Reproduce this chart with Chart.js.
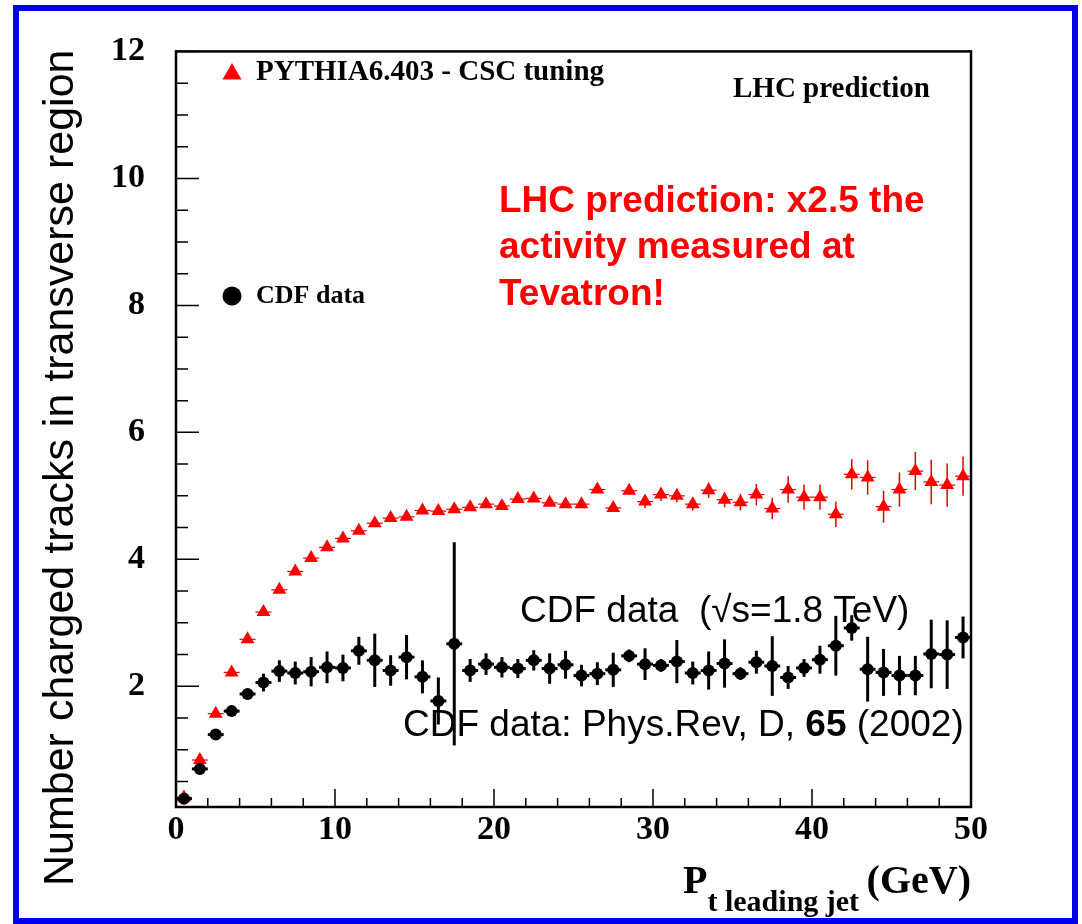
<!DOCTYPE html>
<html>
<head>
<meta charset="utf-8">
<title>Charged tracks in transverse region</title>
<script src="https://cdn.jsdelivr.net/npm/chart.js@4.4.1/dist/chart.umd.min.js"></script>
<style>
  html, body { margin: 0; padding: 0; background: #fff; }
  #wrap { position: relative; width: 1082px; height: 924px; }
  #frame {
    position: absolute; left: 13px; top: 5px; width: 1065px; height: 919px;
    box-sizing: border-box; border: 6px solid #0000f0; pointer-events: none;
  }
</style>
</head>
<body>
<div id="wrap">
  <canvas id="myChart" width="1082" height="924"></canvas>
  <div id="frame"></div>
</div>
<script>
// bin centres of P_t leading jet (GeV)
const ptBins = [
  0.5, 1.5, 2.5, 3.5, 4.5, 5.5, 6.5, 7.5, 8.5, 9.5,
  10.5, 11.5, 12.5, 13.5, 14.5, 15.5, 16.5, 17.5, 18.5, 19.5,
  20.5, 21.5, 22.5, 23.5, 24.5, 25.5, 26.5, 27.5, 28.5, 29.5,
  30.5, 31.5, 32.5, 33.5, 34.5, 35.5, 36.5, 37.5, 38.5, 39.5,
  40.5, 41.5, 42.5, 43.5, 44.5, 45.5, 46.5, 47.5, 48.5, 49.5
];

// PYTHIA6.403 - CSC tuning (LHC prediction)
const pythiaValues = [
  0.25, 0.84, 1.57, 2.22, 2.74, 3.17, 3.52, 3.81, 4.02, 4.19,
  4.33, 4.45, 4.57, 4.65, 4.67, 4.77, 4.76, 4.79, 4.82, 4.87,
  4.84, 4.95, 4.96, 4.89, 4.87, 4.87, 5.10, 4.81, 5.08, 4.91,
  5.02, 5.00, 4.87, 5.09, 4.94, 4.90, 5.02, 4.80, 5.10, 4.98,
  4.98, 4.71, 5.34, 5.29, 4.83, 5.10, 5.39, 5.22, 5.17, 5.31
];
const pythiaErrors = [
  0.03, 0.03, 0.03, 0.03, 0.03, 0.03, 0.03, 0.03, 0.03, 0.03,
  0.03, 0.03, 0.05, 0.05, 0.05, 0.05, 0.05, 0.05, 0.05, 0.05,
  0.05, 0.05, 0.05, 0.05, 0.05, 0.06, 0.06, 0.06, 0.06, 0.10,
  0.10, 0.10, 0.10, 0.12, 0.12, 0.13, 0.17, 0.17, 0.21, 0.20,
  0.20, 0.20, 0.24, 0.27, 0.25, 0.27, 0.30, 0.35, 0.34, 0.31
];

// CDF data (sqrt(s) = 1.8 TeV)
const cdfValues = [
  0.23, 0.70, 1.24, 1.61, 1.88, 2.06, 2.24, 2.21, 2.23, 2.30,
  2.29, 2.56, 2.41, 2.25, 2.46, 2.15, 1.77, 2.67, 2.25, 2.35,
  2.30, 2.28, 2.41, 2.28, 2.34, 2.17, 2.20, 2.26, 2.48, 2.35,
  2.33, 2.39, 2.21, 2.25, 2.36, 2.20, 2.38, 2.32, 2.14, 2.29,
  2.42, 2.64, 2.92, 2.27, 2.22, 2.17, 2.17, 2.51, 2.50, 2.77
];
const cdfErrors = [
  0.03, 0.03, 0.04, 0.05, 0.08, 0.14, 0.17, 0.18, 0.23, 0.25,
  0.21, 0.22, 0.42, 0.24, 0.35, 0.26, 0.37, 1.60, 0.18, 0.17,
  0.16, 0.15, 0.16, 0.24, 0.22, 0.17, 0.18, 0.27, 0.10, 0.25,
  0.10, 0.34, 0.18, 0.30, 0.38, 0.10, 0.18, 0.47, 0.18, 0.14,
  0.22, 0.47, 0.20, 0.51, 0.37, 0.31, 0.31, 0.54, 0.54, 0.33
];
const binHalfWidth = 0.5;

const xTickLabels = [0, 10, 20, 30, 40, 50];
const yTickLabels = [2, 4, 6, 8, 10, 12];

const SERIF = '"Liberation Serif", "Times New Roman", serif';
const SANS = '"Liberation Sans", Arial, sans-serif';

// error bars drawn just before each dataset's markers
const errorBars = {
    id: 'errorBars',
    beforeDatasetDraw(chart, args) {
        const ds = chart.data.datasets[args.index];
        if (!ds.errors) return;
        const { ctx, scales: { x, y } } = chart;
        ctx.save();
        ctx.strokeStyle = ds.errorColor;
        ds.data.forEach((p, i) => {
            const px = x.getPixelForValue(p.x);
            const py = y.getPixelForValue(p.y);
            ctx.lineWidth = ds.errorWidth;
            ctx.beginPath();
            ctx.moveTo(px, y.getPixelForValue(p.y + ds.errors[i]));
            ctx.lineTo(px, y.getPixelForValue(p.y - ds.errors[i]));
            ctx.stroke();
            ctx.lineWidth = ds.hErrorWidth;
            ctx.beginPath();
            ctx.moveTo(x.getPixelForValue(p.x - binHalfWidth), py);
            ctx.lineTo(x.getPixelForValue(p.x + binHalfWidth), py);
            ctx.stroke();
        });
        ctx.restore();
    }
};

// ROOT style frame with inward ticks
const rootFrame = {
    id: 'rootFrame',
    afterDatasetsDraw(chart) {
        const { ctx, chartArea: a, scales: { x, y } } = chart;
        ctx.save();
        ctx.strokeStyle = '#000';
        ctx.lineWidth = 1.5;
        ctx.beginPath();
        for (let v = x.min; v <= x.max; v += 2) {
            const px = x.getPixelForValue(v);
            const len = v % 10 === 0 ? 18 : 9;
            ctx.moveTo(px, a.bottom);
            ctx.lineTo(px, a.bottom - len);
        }
        for (let v = 0.5; v <= y.max; v += 0.5) {
            if (v < y.min) continue;
            const py = y.getPixelForValue(v);
            const len = v % 2 === 0 ? 23 : 12;
            ctx.moveTo(a.left, py);
            ctx.lineTo(a.left + len, py);
        }
        ctx.stroke();
        ctx.lineWidth = 2.5;
        ctx.strokeRect(a.left, a.top, a.right - a.left, a.bottom - a.top);
        ctx.restore();
    }
};

// legend markers and texts
const annotations = {
    id: 'annotations',
    afterDraw(chart) {
        const ctx = chart.ctx;
        ctx.save();
        ctx.textBaseline = 'alphabetic';
        ctx.textAlign = 'left';

        ctx.fillStyle = '#f00';
        Chart.helpers.drawPoint(ctx, { pointStyle: 'triangle', radius: 11, rotation: 0, borderWidth: 0 }, 232, 74);
        ctx.fillStyle = '#000';
        Chart.helpers.drawPoint(ctx, { pointStyle: 'circle', radius: 9.5, rotation: 0, borderWidth: 0 }, 232, 296);

        ctx.font = `bold 29px ${SERIF}`;
        ctx.fillText('PYTHIA6.403 - CSC tuning', 256, 80);
        ctx.fillText('LHC prediction', 733, 97);
        ctx.font = `bold 26px ${SERIF}`;
        ctx.fillText('CDF data', 256, 303);

        ctx.fillStyle = '#f00';
        ctx.font = `bold 37px ${SANS}`;
        ctx.fillText('LHC prediction: x2.5 the', 499, 212);
        ctx.fillText('activity measured at', 499, 258);
        ctx.fillText('Tevatron!', 499, 305);

        ctx.fillStyle = '#000';
        ctx.font = `37px ${SANS}`;
        ctx.fillText('CDF data  (\u221As=1.8 TeV)', 520, 622);
        let tx = 403;
        const parts = [
            ['CDF data: Phys.Rev, D, ', `37px ${SANS}`],
            ['65', `bold 37px ${SANS}`],
            [' (2002)', `37px ${SANS}`]
        ];
        parts.forEach(([t, f]) => {
            ctx.font = f;
            ctx.fillText(t, tx, 736);
            tx += ctx.measureText(t).width;
        });

        // x axis title, right aligned to the frame
        const right = chart.chartArea.right;
        const xt = [
            ['P', `bold 40px ${SERIF}`, 0],
            ['t leading jet ', `bold 30px ${SERIF}`, 18],
            ['(GeV)', `bold 40px ${SERIF}`, 0]
        ];
        let total = 0;
        xt.forEach(([t, f]) => { ctx.font = f; total += ctx.measureText(t).width; });
        tx = right - total;
        xt.forEach(([t, f, dy]) => {
            ctx.font = f;
            ctx.fillText(t, tx, 893 + dy);
            tx += ctx.measureText(t).width;
        });

        // y axis title
        ctx.translate(73, 886);
        ctx.rotate(-Math.PI / 2);
        ctx.font = `43px ${SANS}`;
        ctx.fillText('Number charged tracks in transverse region', 0, 0);
        ctx.restore();
    }
};

const dataChart = {
    datasets: [
        {
            label: 'CDF data',
            data: ptBins.map((x, i) => ({ x, y: cdfValues[i] })),
            pointStyle: 'circle',
            pointRadius: 6,
            pointBorderWidth: 0,
            backgroundColor: '#000',
            borderColor: '#000',
            errors: cdfErrors,
            errorColor: '#000',
            errorWidth: 3,
            hErrorWidth: 3,
        },
        {
            label: 'PYTHIA6.403 - CSC tuning',
            data: ptBins.map((x, i) => ({ x, y: pythiaValues[i] })),
            pointStyle: 'triangle',
            pointRadius: 8,
            pointBorderWidth: 0,
            backgroundColor: '#f00',
            borderColor: '#f00',
            errors: pythiaErrors,
            errorColor: '#e00000',
            errorWidth: 1.5,
            hErrorWidth: 1.2,
        },
    ],
};

const configChart = {
    type: 'scatter',
    data: dataChart,
    options: {
        responsive: false,
        animation: false,
        devicePixelRatio: 1,
        layout: { padding: { top: 47, right: 111, bottom: 0, left: 0 } },
        plugins: { legend: { display: false }, tooltip: { enabled: false } },
        scales: {
            x: {
                type: 'linear',
                min: 0,
                max: 50,
                afterBuildTicks: s => { s.ticks = xTickLabels.map(v => ({ value: v })); },
                afterFit: s => { s.height = 117; },
                grid: { display: false, drawTicks: false },
                border: { display: false },
                ticks: {
                    color: '#000',
                    padding: 3,
                    maxRotation: 0,
                    font: { family: SERIF, size: 34, weight: 'bold' },
                },
            },
            y: {
                type: 'linear',
                min: 0.1,
                max: 12,
                afterBuildTicks: s => { s.ticks = yTickLabels.map(v => ({ value: v })); },
                afterFit: s => { s.width = 176; },
                grid: { display: false, drawTicks: false },
                border: { display: false },
                ticks: {
                    color: '#000',
                    padding: 31,
                    font: { family: SERIF, size: 34, weight: 'bold' },
                },
            },
        },
    },
    plugins: [errorBars, rootFrame, annotations],
};

const myChart = new Chart(document.getElementById('myChart'), configChart);
</script>
</body>
</html>
